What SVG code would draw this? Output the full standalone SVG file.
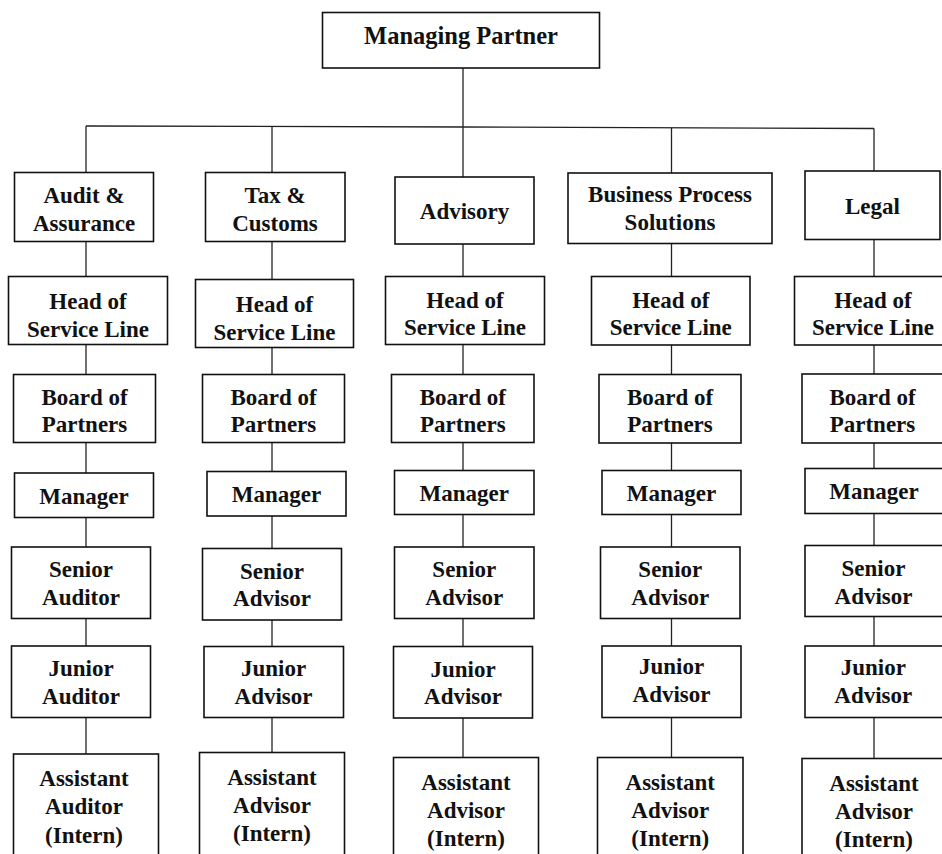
<svg xmlns="http://www.w3.org/2000/svg" width="942" height="854" viewBox="0 0 942 854">
<style>
  .box { fill: #ffffff; stroke: #111111; stroke-width: 1.6; }
  .conn { fill: none; stroke: #222222; stroke-width: 1.3; }
  text { font-family: "Liberation Serif", "Times New Roman", serif; font-weight: bold; font-size: 23px; fill: #111111; text-anchor: middle; }
  .big { font-size: 24.5px; }
</style>
<rect x="0" y="0" width="942" height="854" fill="#ffffff"/>
<g id="connectors">
  <line class="conn" x1="463" y1="68" x2="463" y2="757"/>
  <polyline class="conn" points="86,126 463,127 874,128.5"/>
  <line class="conn" x1="86" y1="126" x2="86" y2="754"/>
  <line class="conn" x1="272" y1="126.5" x2="272" y2="753"/>
  <line class="conn" x1="671.5" y1="127.8" x2="671.5" y2="757"/>
  <line class="conn" x1="874" y1="128.5" x2="874" y2="759"/>
</g>
<g id="managing-partner">
  <rect class="box" x="322.5" y="12.5" width="277" height="55.5"/>
  <text class="big" x="461" y="43.5">Managing Partner</text>
</g>
<!-- Column 1 -->
<g id="audit-assurance">
  <rect class="box" x="14.5" y="172.5" width="139" height="69"/>
  <text x="84" y="202.5">Audit &amp;</text>
  <text x="84" y="231">Assurance</text>
</g>
<g id="c1-head">
  <rect class="box" x="8.5" y="276.5" width="159" height="68"/>
  <text x="88" y="309">Head of</text>
  <text x="88" y="336.5">Service Line</text>
</g>
<g id="c1-board">
  <rect class="box" x="13.5" y="374.5" width="142" height="68"/>
  <text x="84.5" y="405">Board of</text>
  <text x="84.5" y="432">Partners</text>
</g>
<g id="c1-manager">
  <rect class="box" x="14.5" y="473" width="139" height="44.5"/>
  <text x="84" y="503.5">Manager</text>
</g>
<g id="c1-senior">
  <rect class="box" x="11.5" y="547" width="139" height="71.5"/>
  <text x="81" y="576.5">Senior</text>
  <text x="81" y="604.5">Auditor</text>
</g>
<g id="c1-junior">
  <rect class="box" x="11.5" y="646" width="139" height="71.5"/>
  <text x="81" y="676">Junior</text>
  <text x="81" y="703.5">Auditor</text>
</g>
<g id="c1-assistant">
  <rect class="box" x="13.5" y="754" width="145" height="110"/>
  <text x="84" y="786">Assistant</text>
  <text x="84" y="814">Auditor</text>
  <text x="84" y="842.5">(Intern)</text>
</g>
<!-- Column 2 -->
<g id="tax-customs">
  <rect class="box" x="205.5" y="172.5" width="139.5" height="69"/>
  <text x="275" y="202.5">Tax &amp;</text>
  <text x="275" y="231">Customs</text>
</g>
<g id="c2-head">
  <rect class="box" x="195.5" y="279.5" width="158" height="68"/>
  <text x="274.5" y="312">Head of</text>
  <text x="274.5" y="339.5">Service Line</text>
</g>
<g id="c2-board">
  <rect class="box" x="202.5" y="374.5" width="142" height="68"/>
  <text x="273.5" y="405">Board of</text>
  <text x="273.5" y="432">Partners</text>
</g>
<g id="c2-manager">
  <rect class="box" x="207" y="471.5" width="139" height="44.5"/>
  <text x="276.5" y="502">Manager</text>
</g>
<g id="c2-senior">
  <rect class="box" x="202.5" y="548.5" width="139" height="71.5"/>
  <text x="272" y="578.5">Senior</text>
  <text x="272" y="606">Advisor</text>
</g>
<g id="c2-junior">
  <rect class="box" x="204" y="646.5" width="139.5" height="71"/>
  <text x="273.5" y="676">Junior</text>
  <text x="273.5" y="703.5">Advisor</text>
</g>
<g id="c2-assistant">
  <rect class="box" x="199.5" y="752.5" width="145" height="110"/>
  <text x="272" y="785">Assistant</text>
  <text x="272" y="813">Advisor</text>
  <text x="272" y="840.5">(Intern)</text>
</g>
<!-- Column 3 -->
<g id="advisory">
  <rect class="box" x="395" y="177" width="139" height="67"/>
  <text x="464.5" y="219">Advisory</text>
</g>
<g id="c3-head">
  <rect class="box" x="385.5" y="276.5" width="159" height="68"/>
  <text x="465" y="307.5">Head of</text>
  <text x="465" y="335">Service Line</text>
</g>
<g id="c3-board">
  <rect class="box" x="391.5" y="374.5" width="142.5" height="68"/>
  <text x="462.8" y="405">Board of</text>
  <text x="462.8" y="432">Partners</text>
</g>
<g id="c3-manager">
  <rect class="box" x="394.5" y="470.5" width="139.5" height="44"/>
  <text x="464.3" y="500.5">Manager</text>
</g>
<g id="c3-senior">
  <rect class="box" x="394.5" y="547" width="139.5" height="71.5"/>
  <text x="464.3" y="576.5">Senior</text>
  <text x="464.3" y="604.5">Advisor</text>
</g>
<g id="c3-junior">
  <rect class="box" x="393.5" y="646.5" width="139" height="71.5"/>
  <text x="463" y="676.5">Junior</text>
  <text x="463" y="703.5">Advisor</text>
</g>
<g id="c3-assistant">
  <rect class="box" x="393.5" y="757.5" width="145" height="110"/>
  <text x="466" y="790">Assistant</text>
  <text x="466" y="817.5">Advisor</text>
  <text x="466" y="846">(Intern)</text>
</g>
<!-- Column 4 -->
<g id="business-process-solutions">
  <rect class="box" x="568" y="173" width="204" height="70.5"/>
  <text x="670" y="202">Business Process</text>
  <text x="670" y="230">Solutions</text>
</g>
<g id="c4-head">
  <rect class="box" x="591.5" y="276.5" width="158.5" height="68.5"/>
  <text x="670.8" y="307.5">Head of</text>
  <text x="670.8" y="335">Service Line</text>
</g>
<g id="c4-board">
  <rect class="box" x="599" y="374.5" width="142" height="68.5"/>
  <text x="670" y="405">Board of</text>
  <text x="670" y="432">Partners</text>
</g>
<g id="c4-manager">
  <rect class="box" x="602" y="470.5" width="139" height="44"/>
  <text x="671.5" y="500.5">Manager</text>
</g>
<g id="c4-senior">
  <rect class="box" x="600.5" y="547" width="139.5" height="71.5"/>
  <text x="670.3" y="576.5">Senior</text>
  <text x="670.3" y="604.5">Advisor</text>
</g>
<g id="c4-junior">
  <rect class="box" x="602" y="646" width="139" height="71.5"/>
  <text x="671.5" y="673.5">Junior</text>
  <text x="671.5" y="702">Advisor</text>
</g>
<g id="c4-assistant">
  <rect class="box" x="597.5" y="757.5" width="145.5" height="110"/>
  <text x="670.3" y="790">Assistant</text>
  <text x="670.3" y="817.5">Advisor</text>
  <text x="670.3" y="846">(Intern)</text>
</g>
<!-- Column 5 -->
<g id="legal">
  <rect class="box" x="805" y="171" width="135" height="68.5"/>
  <text x="872.5" y="213.5">Legal</text>
</g>
<g id="c5-head">
  <rect class="box" x="794.5" y="276.5" width="160" height="68.5"/>
  <text x="873" y="307.5">Head of</text>
  <text x="873" y="335">Service Line</text>
</g>
<g id="c5-board">
  <rect class="box" x="802" y="374" width="150" height="69"/>
  <text x="872.5" y="405">Board of</text>
  <text x="872.5" y="432">Partners</text>
</g>
<g id="c5-manager">
  <rect class="box" x="805" y="468.5" width="150" height="45"/>
  <text x="874" y="498.5">Manager</text>
</g>
<g id="c5-senior">
  <rect class="box" x="805" y="545.5" width="150" height="71"/>
  <text x="873.5" y="576">Senior</text>
  <text x="873.5" y="604">Advisor</text>
</g>
<g id="c5-junior">
  <rect class="box" x="805" y="646" width="150" height="71.5"/>
  <text x="873.3" y="675">Junior</text>
  <text x="873.3" y="703">Advisor</text>
</g>
<g id="c5-assistant">
  <rect class="box" x="802" y="758.5" width="150" height="110"/>
  <text x="874" y="791">Assistant</text>
  <text x="874" y="818.5">Advisor</text>
  <text x="874" y="846.5">(Intern)</text>
</g>
</svg>
